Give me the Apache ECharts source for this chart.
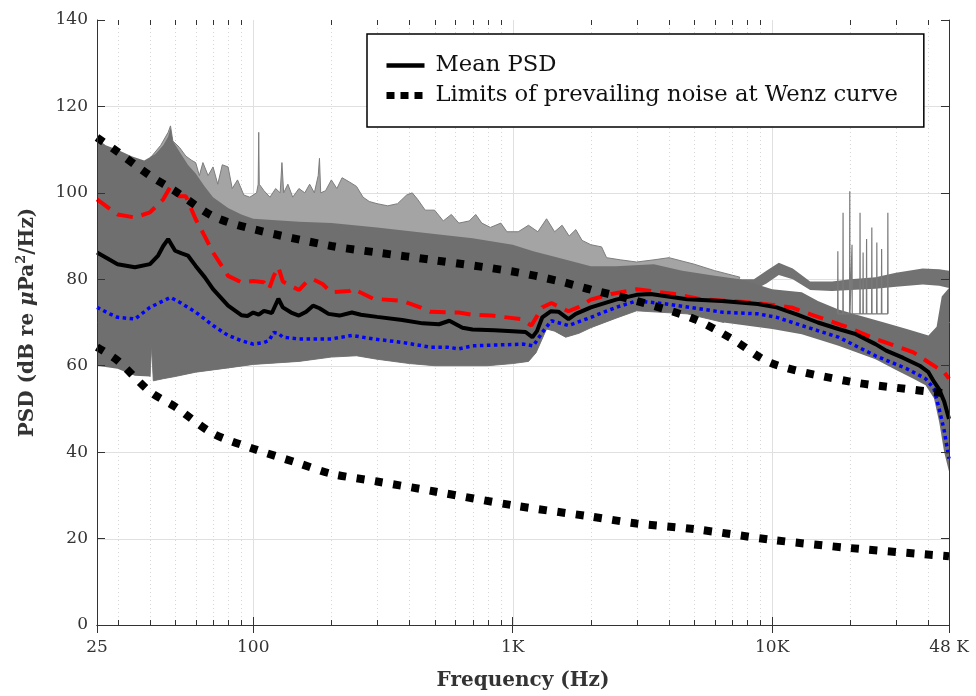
<!DOCTYPE html>
<html>
<head>
<meta charset="utf-8">
<title>PSD</title>
<script src="https://cdn.jsdelivr.net/npm/echarts@6/dist/echarts.min.js"></script>
<style>
  html, body { margin: 0; padding: 0; background: #fff; }
  #chart { width: 976px; height: 696px; }
</style>
</head>
<body>
<div id="chart"></div>
<script>
// values, [frequency (Hz), PSD (dB)]
const meanPsd = [[25, 86.2], [28, 84.5], [30, 83.5], [35, 82.8], [40, 83.5], [43, 85.5], [45, 87.7], [47, 89.3], [50, 86.6], [53, 86], [56, 85.5], [60, 83.1], [65, 80.5], [70, 77.7], [80, 73.9], [90, 71.7], [95, 71.5], [100, 72.3], [105, 71.8], [110, 72.7], [118, 72.2], [125, 75.5], [130, 73.5], [140, 72.3], [150, 71.6], [160, 72.5], [170, 73.9], [180, 73.3], [195, 72], [215, 71.6], [240, 72.3], [260, 71.8], [300, 71.3], [375, 70.6], [450, 69.8], [520, 69.6], [570, 70.4], [640, 68.8], [700, 68.4], [850, 68.2], [1000, 68], [1120, 67.8], [1190, 66.6], [1240, 68], [1300, 71.2], [1400, 72.6], [1500, 72.5], [1640, 70.8], [1750, 72], [2000, 73.5], [2500, 75.3], [3000, 76.4], [3400, 76.6], [4700, 75.4], [6400, 75], [8800, 74.3], [10400, 73.5], [12500, 71.8], [15000, 70], [18000, 68.5], [21000, 67.3], [25000, 65], [27500, 63.5], [32000, 61.8], [37000, 60], [40000, 58.5], [42000, 56.3], [44000, 54.5], [46000, 51.7], [48000, 47.7]];

const upperPsd = [[25, 98.5], [30, 95], [35, 94.3], [40, 95.5], [45, 98.5], [48, 101.5], [52, 99.2], [55, 99.2], [60, 93.9], [65, 90], [70, 86.2], [80, 80.8], [90, 79.3], [100, 79.6], [110, 79.3], [115, 77.7], [120, 80.8], [125, 82.8], [130, 79.5], [150, 77.5], [160, 79.3], [170, 80], [185, 78.9], [200, 77], [235, 77.3], [242, 77.8], [290, 75.5], [375, 75], [440, 73.5], [480, 72.5], [620, 72.3], [700, 71.8], [830, 71.6], [1070, 70.8], [1180, 69.3], [1300, 73.5], [1410, 74.5], [1640, 72.6], [1800, 73.6], [2000, 75.3], [2400, 76.6], [3000, 77.7], [4200, 76.6], [5300, 75.4], [8000, 74.7], [10500, 73.9], [12000, 73.4], [14500, 71.6], [19500, 68.9], [25000, 66.2], [35000, 63.1], [40000, 60.8], [46000, 58.5], [48000, 57]];

const lowerPsd = [[25, 73.5], [28, 72], [30, 71.2], [35, 70.8], [40, 73.5], [45, 75], [48, 75.8], [52, 74.7], [60, 72.4], [70, 69.3], [80, 67], [90, 65.8], [100, 65], [110, 65.4], [115, 65.8], [120, 67.7], [125, 67.5], [130, 66.6], [150, 66.2], [200, 66.2], [240, 67], [290, 66.2], [375, 65.4], [480, 64.3], [560, 64.3], [620, 63.9], [700, 64.6], [1100, 65], [1200, 64.6], [1300, 67.7], [1410, 70.4], [1640, 69.3], [2000, 71.2], [2500, 73.5], [3000, 75], [3900, 74.3], [6400, 72.4], [8800, 72], [10400, 71.2], [13000, 69.3], [18000, 66.6], [25000, 62.3], [33000, 59.3], [39000, 57], [42000, 54.7], [44000, 50], [46000, 45], [48000, 38.5]];

const wenzHigh = [[25, 112.8], [30, 109.5], [40, 104], [50, 100.4], [70, 94.6], [100, 91.6], [200, 87.7], [300, 86.2], [500, 84.4], [1000, 81.8], [1500, 79.6], [2000, 77.6], [3000, 75], [5000, 70.8], [7000, 66.2], [10000, 60.5], [20000, 56.3], [30000, 54.9], [48000, 53.5]];

const wenzLow = [[25, 64.3], [30, 61.2], [40, 54], [50, 50.5], [70, 44.3], [100, 40.8], [150, 37.4], [200, 35], [300, 33.2], [500, 30.9], [1000, 27.7], [2000, 25.1], [3000, 23.5], [5000, 22.2], [10000, 19.7], [20000, 17.8], [48000, 15.9]];

// envelope of the grey mass of individual spectra
const bandTop = [[25, 112.5], [27, 111], [30, 110], [34, 108.5], [38, 107.5], [42, 109], [45, 111], [47, 113], [48, 115], [49, 112], [52, 109.5], [56, 106.5], [60, 104.5], [65, 101.5], [70, 99], [80, 96.5], [90, 95], [100, 94], [150, 93.3], [200, 93], [300, 92], [500, 90.5], [700, 89.5], [1000, 88], [1200, 86.5], [1500, 85], [2000, 83], [2500, 83], [3500, 83.5], [4500, 82], [6000, 80.8], [7500, 80], [8500, 79], [10000, 77.7], [13000, 77], [15000, 75], [18000, 73], [22000, 71.5], [27000, 70], [33000, 68.5], [40000, 67], [43000, 69], [45000, 76], [48000, 78]];

const bandLow = [[25, 60], [30, 59.3], [35, 57.7], [40, 57.5], [40.6, 64.5], [41.2, 56.5], [45, 57], [50, 57.5], [60, 58.5], [80, 59.5], [100, 60.3], [150, 61], [200, 62], [250, 62.3], [300, 61.5], [400, 60.5], [500, 60], [800, 60], [1000, 60.5], [1150, 61], [1230, 63], [1350, 68.5], [1450, 68], [1600, 66.6], [1800, 67.5], [2000, 68.8], [2500, 71], [3000, 72.7], [4700, 72], [6500, 70], [10000, 68.5], [13000, 67.3], [18000, 64.6], [25000, 61.5], [30000, 59], [35000, 57], [39000, 55.5], [42000, 52.5], [44000, 47], [46000, 40], [48000, 35.5]];

// sparse outlier spectra sticking out above the dense band
const outlierTop = [[40, 108], [44, 111], [47, 114], [48, 115.5], [49, 112], [52, 110.5], [55, 108.5], [58, 107.5], [60, 107], [62, 104], [64, 107], [67, 104], [70, 106], [73, 102], [76, 106.5], [80, 106], [83, 101], [87, 103], [92, 99.5], [97, 99], [103, 100], [104.5, 102], [105, 114], [105.5, 102], [110, 100.5], [116, 99], [122, 101], [127, 100], [129, 107], [131, 100], [136, 102], [142, 99], [150, 101], [158, 100], [165, 102], [172, 100], [178, 104], [180, 108], [182, 100], [190, 100.5], [200, 103], [210, 101], [220, 103.5], [235, 102.5], [250, 101.5], [265, 99], [280, 98], [300, 97.5], [330, 97], [360, 97.5], [390, 99.5], [410, 100], [430, 98.5], [460, 96], [500, 96], [540, 93.5], [580, 95], [620, 93], [680, 93.5], [720, 95], [760, 93], [820, 92], [900, 93], [950, 91], [1050, 91], [1150, 92.5], [1250, 91], [1350, 94], [1450, 91], [1550, 92.5], [1650, 90], [1750, 91.5], [1850, 89], [2000, 88], [2200, 87.5], [2300, 85], [2600, 84.5], [3000, 84], [3500, 84.5], [4000, 85], [5000, 83.5], [6000, 82], [7500, 80.5]];

// thin branch of spectra running above the band at high frequency
const branchTop = [[7500, 80], [8500, 80], [9500, 82], [10600, 83.8], [12000, 82.5], [14000, 79.5], [17000, 79.5], [20000, 80], [25000, 80.5], [30000, 81.5], [38000, 82.5], [44000, 82.3], [48000, 82]];
const branchBottom = [[7500, 78], [8500, 77.5], [9500, 79], [10600, 81], [12000, 80], [14000, 77.5], [17000, 77.3], [20000, 77.5], [25000, 77.8], [30000, 78.3], [38000, 78.8], [44000, 78.5], [48000, 78]];

// tonal spikes between 17 kHz and 28 kHz
const spikeFreq = [17900, 18750, 19900, 20300, 21800, 22400, 23100, 24200, 25300, 26400, 27900];
const spikeTop = [86.5, 95.4, 100.4, 88, 95.4, 86.2, 89.3, 92, 88.5, 87, 95.4];
const spikeBase = 72;

const xTicks = [25, 100, 1000, 10000, 48000];
const xTickLabels = ['25', '100', '1K', '10K', '48 K'];
const xMinor = [30, 40, 50, 60, 70, 80, 90, 200, 300, 400, 500, 600, 700, 800, 900, 2000, 3000, 4000, 5000, 6000, 7000, 8000, 9000, 20000, 30000, 40000];
const yTicks = [0, 20, 40, 60, 80, 100, 120, 140];

const FONT = 'DejaVu Serif';
const WENZ = 'Limits of prevailing noise at Wenz curve';
const X_MIN = 25, X_MAX = 48000, Y_MIN = 0, Y_MAX = 140;

const crisp = v => Math.round(v) + 0.5;

// filled polygon between two envelopes
function bandSeries (top, bottom, fill, stroke, z) {
  return {
    type: 'custom',
    silent: true,
    z: z,
    data: [top[0]],
    renderItem (params, api) {
      const pts = top.concat(bottom.slice().reverse()).map(p => api.coord(p))
      return {
        type: 'polygon',
        shape: { points: pts },
        style: { fill: fill, stroke: stroke || null, lineWidth: stroke ? 1 : 0 }
      }
    }
  }
}

function lineSeries (name, data, style, z) {
  return {
    name: name,
    type: 'line',
    data: data,
    z: z,
    symbol: 'none',
    showSymbol: false,
    silent: true,
    itemStyle: { color: style.color },
    lineStyle: style
  }
}

// vertical grid lines (solid for decades, dotted in between)
function xGridSeries (freqs, style) {
  return {
    type: 'custom',
    silent: true,
    z: 1,
    data: freqs.map(f => [f, Y_MIN]),
    renderItem (params, api) {
      const a = api.coord([api.value(0), Y_MIN])
      const b = api.coord([api.value(0), Y_MAX])
      return {
        type: 'line',
        shape: { x1: crisp(a[0]), y1: a[1], x2: crisp(b[0]), y2: b[1] },
        style: style
      }
    }
  }
}

const spikeData = []
spikeFreq.forEach((f, i) => {
  spikeData.push([f * 0.998, spikeBase], [f, spikeTop[i]], [f * 1.002, spikeBase])
})

const outlierLow = bandLow.filter(p => p[0] >= outlierTop[0][0] && p[0] <= outlierTop[outlierTop.length - 1][0])

const chart = echarts.init(document.getElementById('chart'))

chart.setOption({
  animation: false,
  backgroundColor: '#fff',
  grid: { left: 97, right: 27, top: 20, bottom: 69 },
  legend: {
    data: [
      { name: 'Mean PSD', itemStyle: { opacity: 0 }, lineStyle: { width: 4.5, color: '#000' } },
      { name: WENZ, itemStyle: { opacity: 0 }, lineStyle: { width: 7, type: [8, 6], cap: 'butt', color: '#000' } }
    ],
    orient: 'vertical',
    left: 367,
    top: 34,
    padding: [20, 26, 20, 16],
    itemGap: 7,
    itemWidth: 38,
    itemHeight: 14,
    borderColor: '#000',
    borderWidth: 1.5,
    borderRadius: 0,
    backgroundColor: '#fff',
    selectedMode: false,
    z: 12,
    textStyle: { fontFamily: FONT, fontSize: 22.7, color: '#111', padding: [0, 0, 0, 6] }
  },
  xAxis: [
    {
      type: 'log',
      min: X_MIN,
      max: X_MAX,
      position: 'bottom',
      z: 10,
      axisLine: { lineStyle: { color: '#333', width: 1 } },
      axisTick: { inside: true, length: 8, lineStyle: { color: '#333' } },
      axisLabel: {
        margin: 14,
        fontFamily: FONT,
        fontSize: 17,
        color: '#333',
        formatter: v => {
          const i = xTicks.findIndex(t => Math.abs(t - v) / t < 1e-6)
          return i >= 0 ? xTickLabels[i] : ''
        }
      },
      splitLine: { show: false },
      name: 'Frequency (Hz)',
      nameLocation: 'middle',
      nameGap: 46,
      nameTextStyle: { fontFamily: FONT, fontWeight: 'bold', fontSize: 20, color: '#333' }
    },
    {
      type: 'log',
      min: X_MIN,
      max: X_MAX,
      position: 'top',
      z: 10,
      axisLine: { lineStyle: { color: '#333', width: 1 } },
      axisTick: { inside: true, length: 8, lineStyle: { color: '#333' } },
      axisLabel: { show: false },
      splitLine: { show: false }
    }
  ],
  yAxis: [
    {
      type: 'value',
      min: Y_MIN,
      max: Y_MAX,
      interval: 20,
      position: 'left',
      z: 10,
      axisLine: { show: true, lineStyle: { color: '#333', width: 1 } },
      axisTick: { show: true, inside: true, length: 8, lineStyle: { color: '#333' } },
      axisLabel: { margin: 9, fontFamily: FONT, fontSize: 17, color: '#333' },
      splitLine: { show: false },
      name: 'PSD (dB re {mu|μ}Pa{sup|2}/Hz)',
      nameLocation: 'middle',
      nameGap: 57,
      nameTextStyle: {
        fontFamily: FONT,
        fontWeight: 'bold',
        fontSize: 20,
        color: '#333',
        rich: {
          mu: { fontFamily: FONT, fontWeight: 'bold', fontStyle: 'italic', fontSize: 20, color: '#333' },
          sup: { fontFamily: FONT, fontWeight: 'bold', fontSize: 13, color: '#333', verticalAlign: 'top', padding: [0, 0, 12, 0] }
        }
      }
    },
    {
      type: 'value',
      min: Y_MIN,
      max: Y_MAX,
      interval: 20,
      position: 'right',
      z: 10,
      axisLine: { show: true, lineStyle: { color: '#333', width: 1 } },
      axisTick: { show: true, inside: true, length: 8, lineStyle: { color: '#333' } },
      axisLabel: { show: false },
      splitLine: { show: false }
    }
  ],
  series: [
    // grid
    xGridSeries(xTicks.slice(1, -1), { stroke: '#e0e0e0', lineWidth: 1 }),
    xGridSeries(xMinor, { stroke: '#d6d6d6', lineWidth: 1, lineDash: [1, 3] }),
    {
      type: 'custom',
      silent: true,
      z: 1,
      data: yTicks.slice(1, -1).map(v => [X_MIN, v]),
      renderItem (params, api) {
        const a = api.coord([X_MIN, api.value(1)])
        const b = api.coord([X_MAX, api.value(1)])
        return {
          type: 'line',
          shape: { x1: a[0], y1: crisp(a[1]), x2: b[0], y2: crisp(b[1]) },
          style: { stroke: '#e0e0e0', lineWidth: 1 }
        }
      }
    },
    // minor ticks on bottom and top edges
    {
      type: 'custom',
      silent: true,
      z: 10,
      data: xMinor.map(f => [f, Y_MIN]),
      renderItem (params, api) {
        const a = api.coord([api.value(0), Y_MIN])
        const b = api.coord([api.value(0), Y_MAX])
        const st = { stroke: '#333', lineWidth: 1 }
        return {
          type: 'group',
          children: [
            { type: 'line', shape: { x1: crisp(a[0]), y1: a[1], x2: crisp(a[0]), y2: a[1] - 5 }, style: st },
            { type: 'line', shape: { x1: crisp(b[0]), y1: b[1], x2: crisp(b[0]), y2: b[1] + 5 }, style: st }
          ]
        }
      }
    },
    // grey mass of spectra
    bandSeries(outlierTop, outlierLow, '#a4a4a4', '#7d7d7d', 2),
    bandSeries(branchTop, branchBottom, '#727272', null, 2),
    bandSeries(bandTop, bandLow, '#6f6f6f', null, 3),
    lineSeries('spikes', spikeData, { color: '#7a7a7a', width: 1.2 }, 3),
    // statistics
    lineSeries('Upper', upperPsd, { color: '#ff0000', width: 4, type: [16, 9], cap: 'butt' }, 4),
    lineSeries('Lower', lowerPsd, { color: '#0000ff', width: 3.5, type: [3.5, 3.5], cap: 'butt' }, 4),
    lineSeries('Mean PSD', meanPsd, { color: '#000', width: 4 }, 4),
    // Wenz limits
    Object.assign(lineSeries(WENZ, wenzHigh, { color: '#000', width: 8, type: [8, 10.5], cap: 'butt' }, 5), { smooth: 0.3 }),
    Object.assign(lineSeries(WENZ, wenzLow, { color: '#000', width: 8, type: [8, 10.5], cap: 'butt' }, 5), { smooth: 0.3 })
  ]
})
</script>
</body>
</html>
